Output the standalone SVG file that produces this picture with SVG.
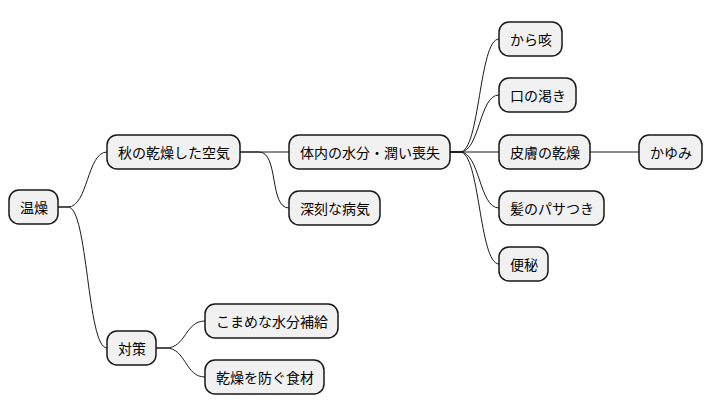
<svg xmlns="http://www.w3.org/2000/svg" width="712" height="415" viewBox="0 0 712 415">
<style>
.n rect{fill:#F1F1F1;stroke:#181818;stroke-width:1.5}
.n text{font-family:"Noto Sans CJK JP","Liberation Sans",sans-serif;font-size:14px;fill:#000;dominant-baseline:central}
#c path{fill:none;stroke:#181818;stroke-width:1}
</style>
<rect width="712" height="415" fill="#fff"/>
<g id="c">
<path d="M58,207 L68,207 C88,207 87,152 107,152"/>
<path d="M58,207 L68,207 C88,207 87,348 107,348"/>
<path d="M240,152 L259,152 C274,152 274,152 289,152"/>
<path d="M240,152 L259,152 C279,152 269,208 289,208"/>
<path d="M450,152 L460,152 C480,152 479,39 499,39"/>
<path d="M450,152 L460,152 C480,152 479,95 499,95"/>
<path d="M450,152 L499,152"/>
<path d="M450,152 L460,152 C480,152 479,208 499,208"/>
<path d="M450,152 L460,152 C480,152 479,264 499,264"/>
<path d="M590,152 L639,152"/>
<path d="M156,348 L166,348 C186,348 185,321 205,321"/>
<path d="M156,348 L166,348 C186,348 185,377 205,377"/>
</g>
<g id="n1" class="n"><rect x="9" y="190" width="49" height="34" rx="10"/><text x="20" y="207">温燥</text></g>
<g id="n2" class="n"><rect x="107" y="135" width="133" height="34" rx="10"/><text x="118" y="152">秋の乾燥した空気</text></g>
<g id="n3" class="n"><rect x="107" y="331" width="49" height="34" rx="10"/><text x="118" y="348">対策</text></g>
<g id="n4" class="n"><rect x="289" y="135" width="161" height="34" rx="10"/><text x="300" y="152">体内の水分・潤い喪失</text></g>
<g id="n5" class="n"><rect x="289" y="191" width="91" height="34" rx="10"/><text x="300" y="208">深刻な病気</text></g>
<g id="n6" class="n"><rect x="499" y="22" width="63" height="34" rx="10"/><text x="510" y="39">から咳</text></g>
<g id="n7" class="n"><rect x="499" y="78" width="77" height="34" rx="10"/><text x="510" y="95">口の渇き</text></g>
<g id="n8" class="n"><rect x="499" y="135" width="91" height="34" rx="10"/><text x="510" y="152">皮膚の乾燥</text></g>
<g id="n9" class="n"><rect x="639" y="135" width="63" height="34" rx="10"/><text x="650" y="152">かゆみ</text></g>
<g id="n10" class="n"><rect x="499" y="191" width="105" height="34" rx="10"/><text x="510" y="208">髪のパサつき</text></g>
<g id="n11" class="n"><rect x="499" y="247" width="49" height="34" rx="10"/><text x="510" y="264">便秘</text></g>
<g id="n12" class="n"><rect x="205" y="304" width="133" height="34" rx="10"/><text x="216" y="321">こまめな水分補給</text></g>
<g id="n13" class="n"><rect x="205" y="360" width="119" height="34" rx="10"/><text x="216" y="377">乾燥を防ぐ食材</text></g>
</svg>
